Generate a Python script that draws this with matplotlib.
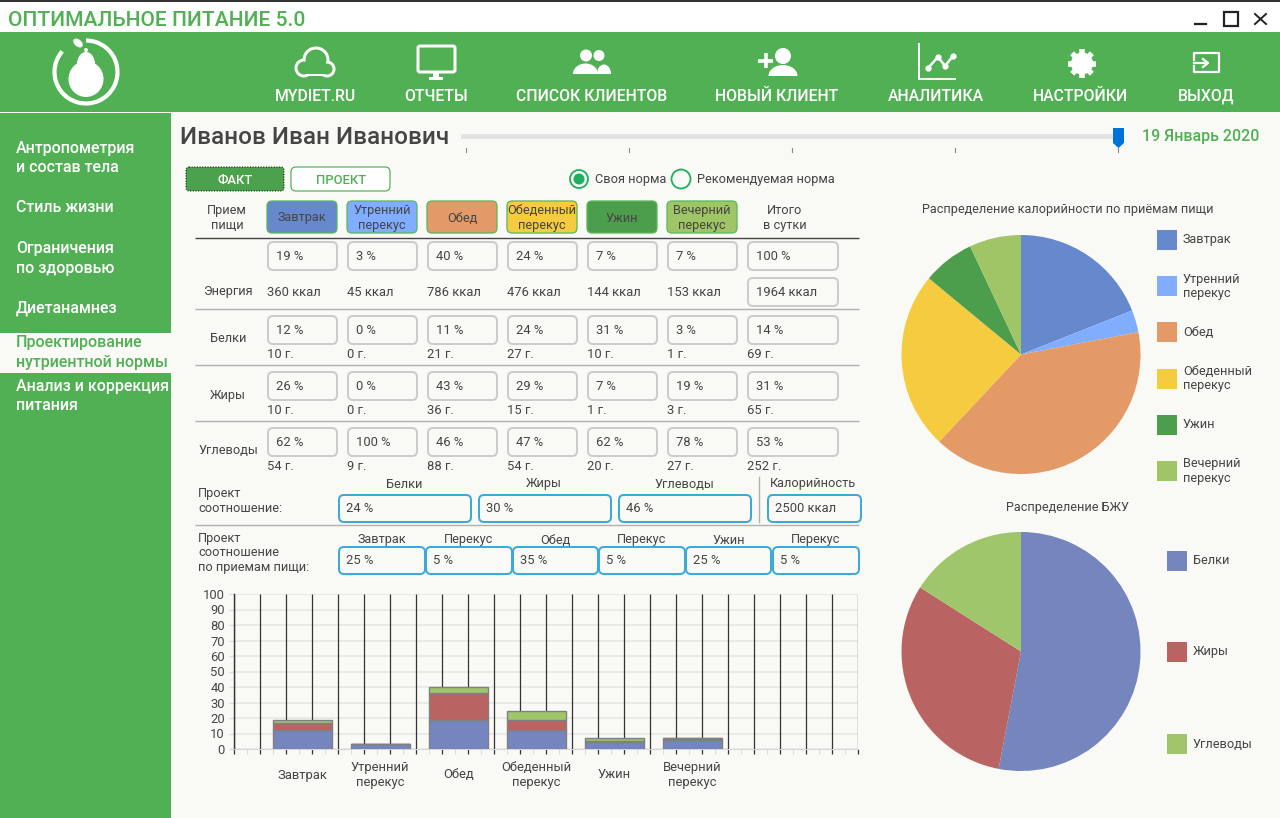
import numpy as np
import matplotlib
matplotlib.use('Agg')
import matplotlib.pyplot as plt
from matplotlib.patches import FancyBboxPatch, Rectangle, Circle, Ellipse, Polygon, Arc

plt.rcParams['font.family'] = ['Roboto', 'DejaVu Sans']

# данные
meals = ['Завтрак', 'Утренний\nперекус', 'Обед', 'Обеденный\nперекус', 'Ужин', 'Вечерний\nперекус']
meal_colors = ['#6688CC', '#80ADFF', '#E39A66', '#F5CC3F', '#4C9E4C', '#9FC566']
energy_pct = [19, 3, 40, 24, 7, 7, 100]
energy_kcal = [360, 45, 786, 476, 144, 153]
energy_total = 1964
protein_pct = [12, 0, 11, 24, 31, 3, 14]
protein_g = [10, 0, 21, 27, 10, 1, 69]
fat_pct = [26, 0, 43, 29, 7, 19, 31]
fat_g = [10, 0, 36, 15, 1, 3, 65]
carb_pct = [62, 100, 46, 47, 62, 78, 53]
carb_g = [54, 9, 88, 54, 20, 27, 252]
project_bju = [24, 30, 46]
project_kcal = 2500
project_meals = [25, 5, 35, 5, 25, 5]
project_meal_names = ['Завтрак', 'Перекус', 'Обед', 'Перекус', 'Ужин', 'Перекус']

bar_protein = [12, 3, 19, 12, 4.5, 5.5]
bar_fat = [5, 0, 17, 7, 0.5, 1.5]
bar_carb = [2, 0, 4, 5.5, 2, 0]

bju_names = ['Белки', 'Жиры', 'Углеводы']
bju_pie = [53, 31, 16]
bju_colors = ['#7585BE', '#BA6363', '#9FC66B']

menu_names = ['MYDIET.RU', 'ОТЧЕТЫ', 'СПИСОК КЛИЕНТОВ', 'НОВЫЙ КЛИЕНТ', 'АНАЛИТИКА', 'НАСТРОЙКИ', 'ВЫХОД']
menu_x = [315, 436, 592, 777, 936, 1081, 1206]
side_items = [('Антропометрия', 148), ('и состав тела', 167), ('Стиль жизни', 207),
              ('Ограничения', 247), ('по здоровью', 267), ('Диетанамнез', 307),
              ('Анализ и коррекция', 386), ('питания', 405)]

GREEN = '#51B054'
BG = '#F9F9F5'
TXT = '#454545'
W, H = 1280, 818

fig = plt.figure(figsize=(W / 100, H / 100), dpi=100, facecolor=BG)
bg = fig.add_axes([0, 0, 1, 1])
bg.set_xlim(0, W)
bg.set_ylim(H, 0)
bg.axis('off')


def px(size):
    return size * 0.72


def text(x, y, s, size=12.8, color=TXT, ha='left', weight='normal', va='center', **kw):
    bg.text(x, y + 1, s, fontsize=px(size), color=color, ha=ha, va=va, weight=weight,
            linespacing=1.12, **kw)


def box(x0, y0, x1, y1, fc='none', ec='#CCCCCC', lw=2, r=5, **kw):
    bg.add_patch(FancyBboxPatch((x0, y0), x1 - x0, y1 - y0, boxstyle='round,pad=0,rounding_size=%s' % r,
                                fc=fc, ec=ec, lw=lw * 0.72, **kw))


def rect(x0, y0, x1, y1, c):
    bg.add_patch(Rectangle((x0, y0), x1 - x0, y1 - y0, fc=c, ec='none'))


def hline(y, x0=195, x1=859, c='#B0B0B0', lw=1):
    bg.plot([x0, x1], [y, y], color=c, lw=lw, solid_capstyle='butt')


# окно, шапка и боковое меню
rect(0, 0, W, 32, 'white')
rect(0, 0, W, 1.5, '#333333')
rect(0, 32, W, 112, GREEN)
rect(0, 113, 171, H, GREEN)
rect(0, 333, 171, 373, BG)
text(8, 19.5, 'ОПТИМАЛЬНОЕ ПИТАНИЕ 5.0', size=21, color=GREEN, weight='medium')
bg.plot([1195, 1206], [24, 24], color='#222222', lw=1.6)
bg.add_patch(Rectangle((1224, 12), 14, 14, fc='none', ec='#222222', lw=1.6))
bg.plot([1255, 1266], [14, 24], color='#222222', lw=1.4)
bg.plot([1255, 1266], [24, 14], color='#222222', lw=1.4)

for name, x in zip(menu_names, menu_x):
    text(x, 100, name, size=15.8, color='white', ha='center', weight='medium', va='baseline')
for s, y in side_items:
    text(16, y, s, size=16, color='white', weight='medium')
text(16, 342, 'Проектирование', size=16, color=GREEN, weight='medium')
text(16, 361, 'нутриентной нормы', size=16, color=GREEN, weight='medium')

# логотип
bg.add_patch(Arc((86, 72), 63, 63, theta1=-90, theta2=221, color='white', lw=3))
bg.add_patch(Ellipse((86, 79), 35, 36, fc='white', ec='none'))
bg.add_patch(Ellipse((86, 64), 18, 24, fc='white', ec='none'))
bg.add_patch(Circle((86, 50), 2, fc='white', ec='none'))
bg.add_patch(Ellipse((78, 43), 11, 7, angle=40, fc='white', ec='none'))

# иконки меню
for cx, cy, r in [(304, 68, 8), (316, 60, 12), (327, 69, 7)]:
    bg.add_patch(Circle((cx, cy), r + 1.5, fc='white', ec='none'))
rect(304, 66, 327, 76, 'white')
for cx, cy, r in [(304, 68, 8), (316, 60, 12), (327, 69, 7)]:
    bg.add_patch(Circle((cx, cy), r - 1.5, fc=GREEN, ec='none'))
rect(304, 66, 327, 74, GREEN)

box(418, 46, 455, 72, ec='white', lw=3, r=2)
rect(433, 72, 439, 78, 'white')
rect(429, 77, 443, 80, 'white')

bg.add_patch(Circle((586, 55.5), 6, fc='white', ec='none'))
bg.add_patch(Circle((599, 55.5), 5.5, fc='white', ec='none'))
bg.add_patch(Ellipse((585.5, 74), 25, 21, fc='white', ec='none'))
bg.add_patch(Ellipse((604, 74), 14, 19, fc='white', ec='none'))
rect(570, 74, 615, 88, GREEN)

bg.add_patch(Circle((783, 56), 8, fc='white', ec='none'))
bg.add_patch(Ellipse((783, 76), 29, 22, fc='white', ec='none'))
rect(760, 76, 805, 90, GREEN)
bg.plot([758, 773], [60.5, 60.5], color='white', lw=2.6, solid_capstyle='butt')
bg.plot([765.5, 765.5], [53, 68], color='white', lw=2.6, solid_capstyle='butt')

bg.plot([919, 919, 955], [44, 79, 79], color='white', lw=1.4)
bg.plot([928, 938, 945, 953], [68, 57, 66, 56], color='white', lw=1.8, marker='o', ms=3.5)

bg.add_patch(Circle((1082, 63.5), 11, fc='white', ec='none'))
for a in np.arange(0, 180, 45):
    dx, dy = 14 * np.cos(np.radians(a)), 14.5 * np.sin(np.radians(a))
    bg.plot([1082 - dx, 1082 + dx], [63.5 - dy, 63.5 + dy], color='white', lw=4, solid_capstyle='butt')
bg.add_patch(Circle((1082, 63.5), 5.5, fc=GREEN, ec='none'))

bg.plot([1194, 1194, 1219, 1219, 1194, 1194], [60, 53, 53, 72, 72, 66], color='white', lw=1.6)
bg.plot([1194, 1207], [63, 63], color='white', lw=1.6)
bg.plot([1203, 1208, 1203], [59, 63, 67], color='white', lw=1.6)

# заголовок и ползунок
text(180, 137, 'Иванов Иван Иванович', size=24.3, weight='medium')
rect(461, 134, 1118, 139, '#E2E4E4')
for x in [466, 629, 792, 955, 1118]:
    bg.plot([x, x], [148, 152], color='#888888', lw=0.8)
bg.add_patch(Polygon([(1113, 128), (1124, 128), (1124, 143), (1118.5, 148), (1113, 143)], fc='#0073DA', ec='none'))
text(1142, 136, '19 Январь 2020', size=16, color=GREEN, weight='medium')

box(186, 167, 284, 191, fc='#4CA24C', ec='black', lw=1, r=3, ls=':')
text(235, 179, 'ФАКТ', size=13, color='white', ha='center', weight='medium')
box(291, 167, 390, 191, fc='white', ec=GREEN, lw=1.2, r=5)
text(341, 179, 'ПРОЕКТ', size=13, color=GREEN, ha='center', weight='medium')
bg.add_patch(Circle((579, 179), 9, fc='none', ec='#1DAF5E', lw=1.3))
bg.add_patch(Circle((579, 179), 5.5, fc='#1DAF5E', ec='none'))
bg.add_patch(Circle((681, 179), 9.5, fc='none', ec='#1DAF5E', lw=1.3))
text(595, 179, 'Своя норма', size=12.7)
text(697, 179, 'Рекомендуемая норма', size=12.7)

# таблица
col_x = [268, 348, 428, 508, 588, 668, 748]
text(227, 217, 'Прием\nпищи', ha='center')
text(785, 217, 'Итого\nв сутки', ha='center')
for x, name, c in zip(col_x, meals, meal_colors):
    box(x - 1, 201, x + 69, 233, fc=c, ec='#5CB85C', lw=1.3, r=5)
    text(x + 34, 217, name, ha='center')
hline(238, c='#444444')


def pct_row(y_box, y_val, values, grams=None):
    for i, (x, v) in enumerate(zip(col_x, values)):
        box(x, y_box, x + (90 if i == 6 else 69), y_box + 28, fc=BG)
        text(x + 8, y_box + 14, '%d %%' % v, size=13)
        if grams is not None:
            text(x - 1, y_val, '%d г.' % grams[i], size=13)


pct_row(242, None, energy_pct)
for x, v in zip(col_x, energy_kcal):
    text(x - 1, 292, '%d ккал' % v, size=13)
box(748, 278, 838, 306, fc=BG)
text(756, 292, '%d ккал' % energy_total, size=13)
text(228, 291, 'Энергия', ha='center')
hline(309)
pct_row(316, 354, protein_pct, protein_g)
text(228, 338, 'Белки', ha='center')
hline(365)
pct_row(372, 410, fat_pct, fat_g)
text(228, 394, 'Жиры', ha='center')
hline(421)
pct_row(428, 466, carb_pct, carb_g)
text(228, 449.5, 'Углеводы', ha='center')

# проектные соотношения
BLUE = '#3BA9D9'
text(198, 500, 'Проект\nсоотношение:')
for x0, x1, name, v in zip([339, 479, 619], [471, 611, 751], bju_names, project_bju):
    box(x0, 495, x1, 522, fc=BG, ec=BLUE)
    text(x0 + 7, 508, '%d %%' % v, size=13)
    text((x0 + x1) / 2 - 1, 483, name, ha='center')
bg.plot([759, 759], [477, 522], color='#B0B0B0', lw=1)
box(768, 495, 861, 522, fc=BG, ec=BLUE)
text(775, 508, '%d ккал' % project_kcal, size=13)
text(813, 483, 'Калорийность', ha='center')
hline(525)
text(198, 552, 'Проект\nсоотношение\nпо приемам пищи:')
pm_x0 = [339, 426, 513, 599, 686, 773]
pm_x1 = [425, 512, 598, 685, 771, 859]
for x0, x1, name, v in zip(pm_x0, pm_x1, project_meal_names, project_meals):
    box(x0, 547, x1, 574, fc=BG, ec=BLUE)
    text(x0 + 7, 560, '%d %%' % v, size=13)
    text((x0 + x1) / 2, 537.5, name, ha='center', va='center_baseline')

# столбчатая диаграмма
ax = fig.add_axes([234 / W, 1 - 749 / H, (858 - 234) / W, (749 - 594) / H], facecolor='none')
centers = np.arange(len(meals)) * 3 + 2.625
prot = np.array(bar_protein, dtype=float)
fat = np.array(bar_fat, dtype=float)
carb = np.array(bar_carb, dtype=float)
edge = dict(width=2.25, edgecolor='#808080', linewidth=1, zorder=3)
ax.bar(centers, prot, color=bju_colors[0], **edge)
ax.bar(centers, fat, bottom=prot, color=bju_colors[1], **edge)
ax.bar(centers, carb, bottom=prot + fat, color=bju_colors[2], **edge)
ax.set_xlim(0, 24)
ax.set_ylim(0, 100)
ax.set_xticks(np.arange(0, 25))
ax.set_xticks(np.arange(0.5, 24), minor=True)
ax.set_yticks(np.arange(0, 101, 10))
ax.set_xticklabels([])
ax.grid(axis='y', color='#E6E6E2', lw=1.2)
ax.set_axisbelow(True)
ax.vlines(np.arange(0, 25), 0, 100, color='#333333', lw=0.9, zorder=1.5)
ax.tick_params(axis='x', which='major', length=3.6, width=0.9, color='#333333')
ax.tick_params(axis='x', which='minor', length=3.6, width=0.8, color='#DDDDDD')
ax.tick_params(axis='y', length=3.6, width=1, color='#DDDDDD', labelsize=px(13), labelcolor=TXT, pad=3)
for side in ['top', 'right']:
    ax.spines[side].set_visible(False)
ax.spines['left'].set_color('#333333')
ax.spines['left'].set_linewidth(1)
ax.spines['bottom'].set_color('#D8D8D8')
for x, name in zip(centers, meals):
    ax.annotate(name, (x, 0), xytext=(0, -26 * 0.72), textcoords='offset points', ha='center', va='center',
                fontsize=px(13), color=TXT, linespacing=1.12)


# круговые диаграммы
def pie_axes(cx, cy, r, values, colors):
    a = fig.add_axes([(cx - r) / W, 1 - (cy + r) / H, 2 * r / W, 2 * r / H], facecolor='none')
    a.pie(values, colors=colors, startangle=90, counterclock=False, radius=1)
    a.set_xlim(-1, 1)
    a.set_ylim(-1, 1)
    return a


pie_axes(1021, 354.5, 119.5, energy_pct[:6], meal_colors)
pie_axes(1021, 651.5, 119.5, bju_pie, bju_colors)

text(1068, 208, 'Распределение калорийности по приёмам пищи', size=12.6, ha='center')
text(1067, 506, 'Распределение БЖУ', size=12.6, ha='center')
for i, (name, c) in enumerate(zip(meals, meal_colors)):
    y = 240 + i * 46.2
    rect(1157, y - 10, 1177, y + 10, c)
    text(1183, y - 1, name)
for y, name, c in zip([561, 652, 744], bju_names, bju_colors):
    rect(1167, y - 10, 1187, y + 10, c)
    text(1193, y - 1, name)

fig.savefig('out.png', dpi=100, facecolor=BG)
